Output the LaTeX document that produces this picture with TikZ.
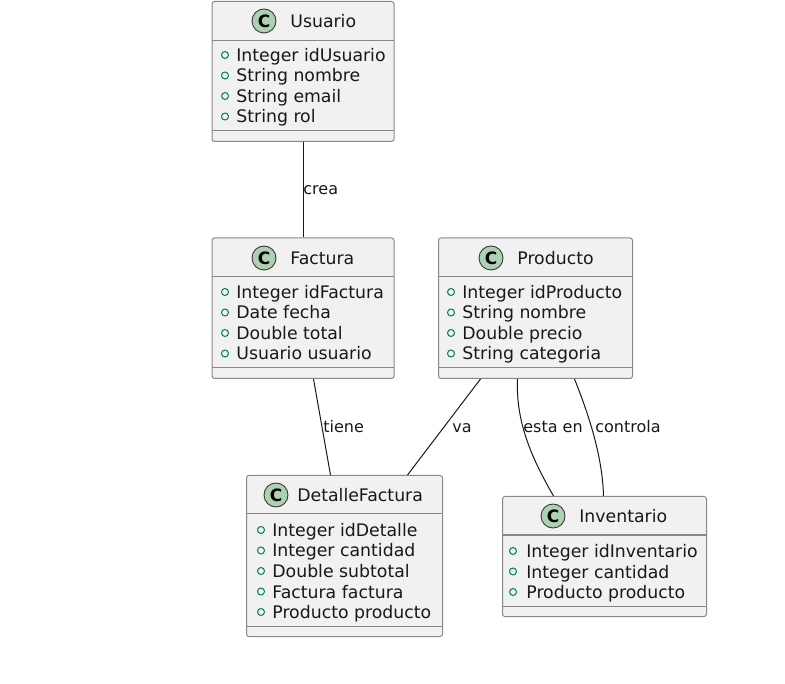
\documentclass[tikz,border=0pt]{standalone}
\usepackage{fontspec}
\setmainfont{DejaVu Sans}

\definecolor{boxfill}{RGB}{241,241,241}
\definecolor{boxline}{RGB}{136,136,136}
\definecolor{iconfill}{RGB}{173,209,178}
\definecolor{iconline}{RGB}{56,56,56}
\definecolor{pubgreen}{RGB}{3,128,72}
\definecolor{txt}{RGB}{24,24,24}

\tikzset{every picture/.style={line width=0.75pt}}
\tikzset{
  classbox/.style={draw=boxline, fill=boxfill, line width=1pt, rounded corners=2.5pt, inner sep=0pt, anchor=north west},
  sepline/.style={draw=boxline, line width=1pt},
  cicon/.style={circle, draw=iconline, fill=iconfill, line width=0.9pt, minimum size=24pt, inner sep=0pt, font=\fontsize{17}{17}\selectfont\bfseries, text=black},
  ctitle/.style={anchor=west, inner sep=0pt, text=txt, font=\fontsize{17.3}{20}\selectfont, text height=14pt, text depth=1pt},
  attr/.style={anchor=west, inner sep=0pt, text=txt, font=\fontsize{17.3}{20}\selectfont, text height=14pt, text depth=1pt},
  pub/.style={draw=pubgreen, line width=1pt},
  assoc/.style={draw=txt, line width=1pt},
  lbl/.style={anchor=west, inner sep=0pt, text=txt, font=\fontsize{16}{19}\selectfont, text height=13pt, text depth=0pt}
}

\begin{document}
\begin{tikzpicture}[x=1pt,y=1pt,yscale=-1,xscale=1]
\path[use as bounding box] (0,0) rectangle (785,684);

%Shape: Class [Usuario]
\node [classbox, minimum width=182pt, minimum height=140pt] (usuario) at (211.5,1) {};
\draw [sepline] (211.5,41) -- (393.5,41) ;
\draw [sepline] (211.5,131) -- (393.5,131) ;
\node [cicon] (usuarioicon) at (264,21) {C};
\node [ctitle] (usuariotitle) at (290,21) {Usuario};
\foreach \y in {55,75.5,96,116.5} \draw [pub] (225,\y) circle (3.5);
\node [attr] (usuario1) at (236,55) {Integer idUsuario};
\node [attr] (usuario2) at (236,75.5) {String nombre};
\node [attr] (usuario3) at (236,96) {String email};
\node [attr] (usuario4) at (236,116.5) {String rol};

%Shape: Class [Factura]
\node [classbox, minimum width=182pt, minimum height=140.5pt] (factura) at (211.5,237.5) {};
\draw [sepline] (211.5,277) -- (393.5,277) ;
\draw [sepline] (211.5,368) -- (393.5,368) ;
\node [cicon] (facturaicon) at (264,258) {C};
\node [ctitle] (facturatitle) at (290,258) {Factura};
\foreach \y in {292,312.5,333,353.5} \draw [pub] (225,\y) circle (3.5);
\node [attr] (factura1) at (236,292) {Integer idFactura};
\node [attr] (factura2) at (236,312.5) {Date fecha};
\node [attr] (factura3) at (236,333) {Double total};
\node [attr] (factura4) at (236,353.5) {Usuario usuario};

%Shape: Class [Producto]
\node [classbox, minimum width=194pt, minimum height=140.5pt] (producto) at (438,237.5) {};
\draw [sepline] (438,277) -- (632,277) ;
\draw [sepline] (438,368) -- (632,368) ;
\node [cicon] (productoicon) at (491,258) {C};
\node [ctitle] (productotitle) at (517,258) {Producto};
\foreach \y in {292,312.5,333,353.5} \draw [pub] (451,\y) circle (3.5);
\node [attr] (producto1) at (462,292) {Integer idProducto};
\node [attr] (producto2) at (462,312.5) {String nombre};
\node [attr] (producto3) at (462,333) {Double precio};
\node [attr] (producto4) at (462,353.5) {String categoria};

%Shape: Class [DetalleFactura]
\node [classbox, minimum width=196pt, minimum height=161pt] (detalle) at (246,475) {};
\draw [sepline] (246,514) -- (442,514) ;
\draw [sepline] (246,626) -- (442,626) ;
\node [cicon] (detalleicon) at (276,495) {C};
\node [ctitle] (detalletitle) at (297,495) {DetalleFactura};
\foreach \y in {530,550.5,571,591.5,612} \draw [pub] (261,\y) circle (3.5);
\node [attr] (detalle1) at (272,530) {Integer idDetalle};
\node [attr] (detalle2) at (272,550.5) {Integer cantidad};
\node [attr] (detalle3) at (272,571) {Double subtotal};
\node [attr] (detalle4) at (272,591.5) {Factura factura};
\node [attr] (detalle5) at (272,612) {Producto producto};

%Shape: Class [Inventario]
\node [classbox, minimum width=204pt, minimum height=120pt] (inventario) at (502,496) {};
\draw [sepline] (502,535) -- (706,535) ;
\draw [sepline] (502,606) -- (706,606) ;
\node [cicon] (inventarioicon) at (553,516) {C};
\node [ctitle] (inventariotitle) at (579,516) {Inventario};
\foreach \y in {551,571.5,592} \draw [pub] (513,\y) circle (3.5);
\node [attr] (inventario1) at (526,551) {Integer idInventario};
\node [attr] (inventario2) at (526,571.5) {Integer cantidad};
\node [attr] (inventario3) at (526,592) {Producto producto};

%Straight Lines [associations]
\draw [assoc] (usuario.south) -- (factura.north) ;
\draw [assoc] ([xshift=10.5pt]factura.south) -- ([xshift=-14pt]detalle.north) ;
\draw [assoc] ([xshift=-55pt]producto.south) -- ([xshift=63pt]detalle.north) ;
%Curve Lines [associations]
\draw [assoc] ([xshift=-18pt]producto.south) .. controls +(-2,45) and +(-20,-35) .. ([xshift=-51pt]inventario.north) ;
\draw [assoc] ([xshift=39pt]producto.south) .. controls +(14,35) and +(-1,-40) .. ([xshift=-1pt]inventario.north) ;

% Text Node
\node [lbl] (lcrea) at (303,188) {crea};
% Text Node
\node [lbl] (ltiene) at (323,426) {tiene};
% Text Node
\node [lbl] (lva) at (452,426) {va};
% Text Node
\node [lbl] (lesta) at (523,426) {esta en};
% Text Node
\node [lbl] (lcontrola) at (595,426) {controla};

\end{tikzpicture}
\end{document}
